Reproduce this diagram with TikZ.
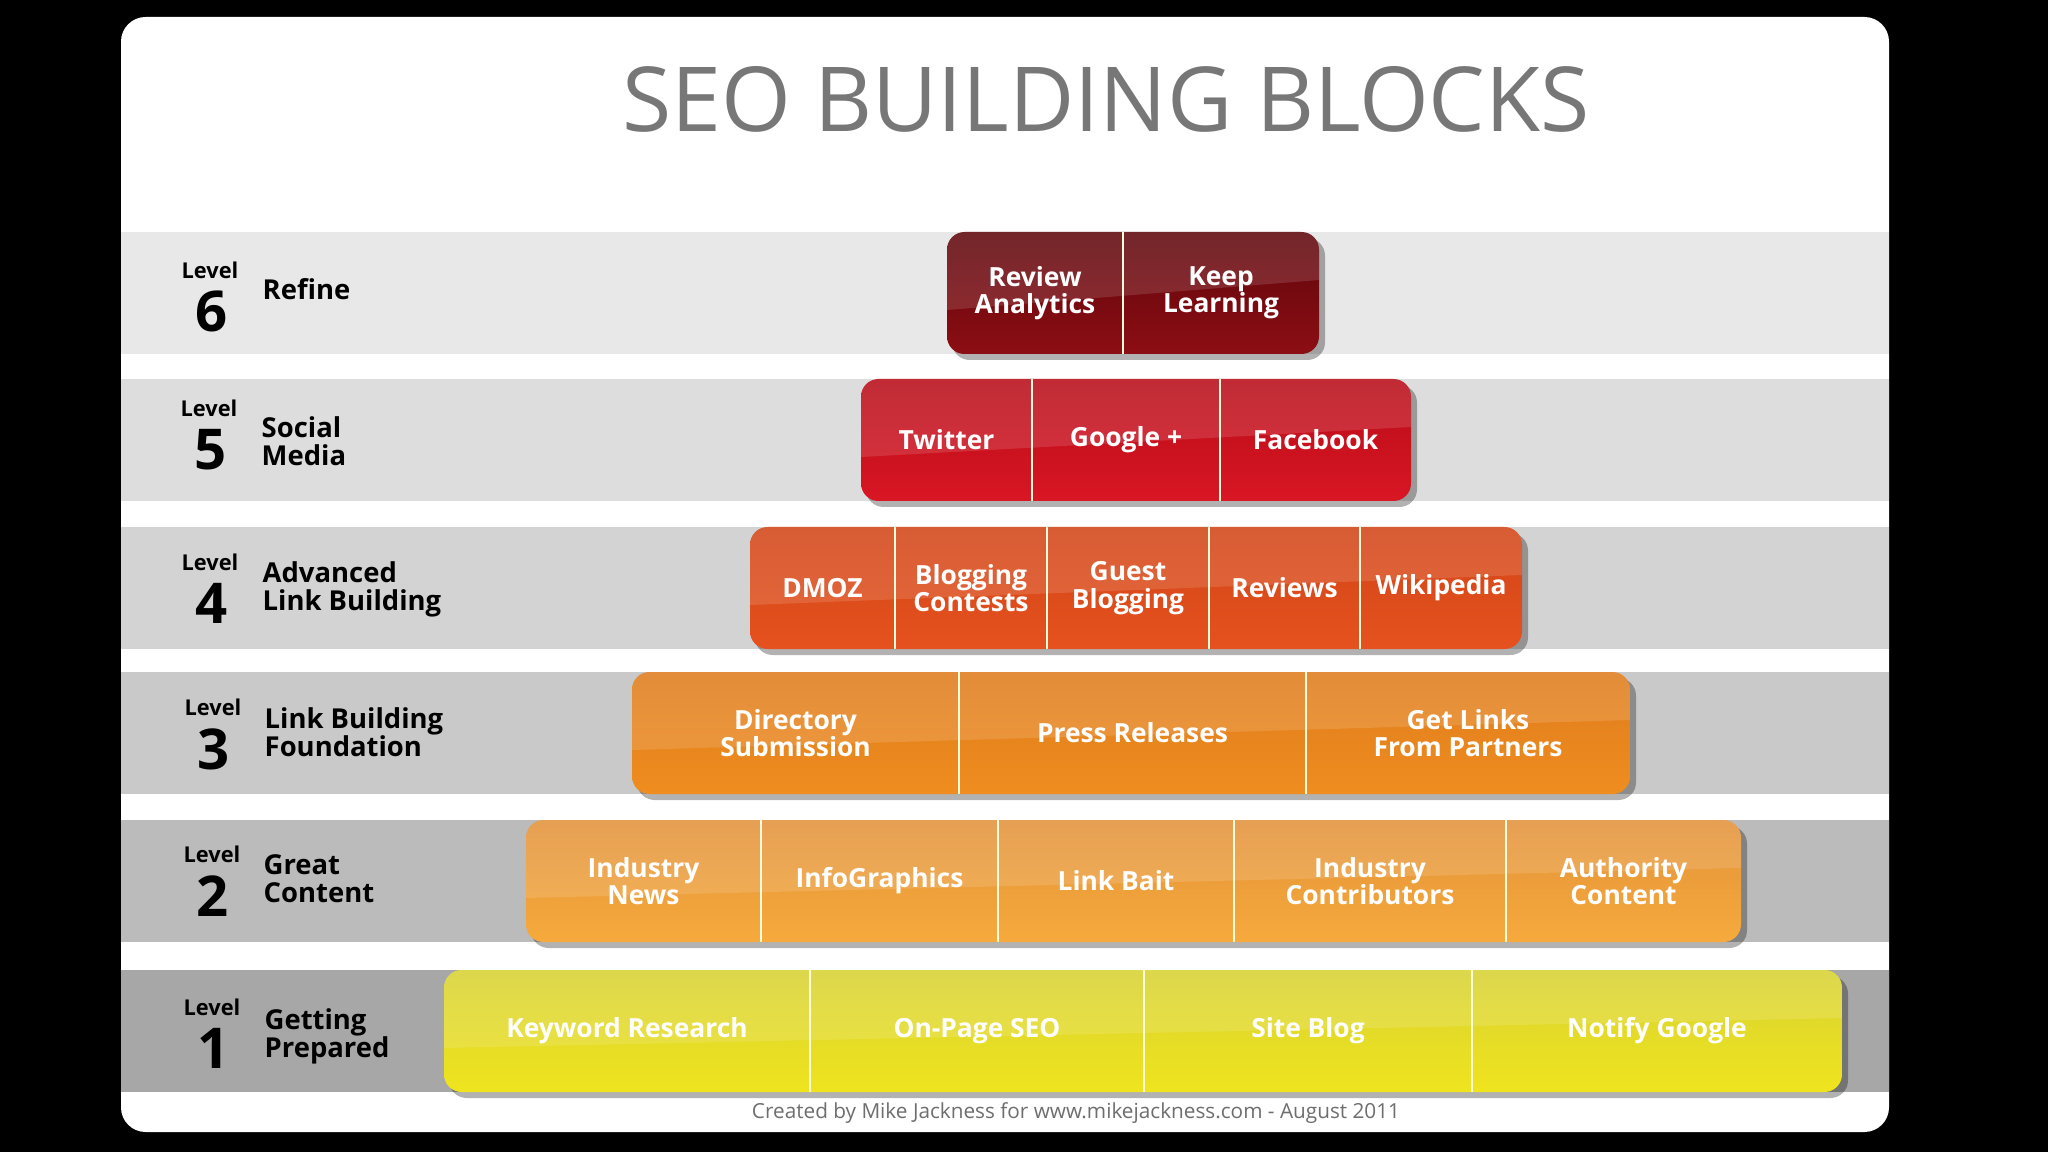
\documentclass[tikz,border=0pt]{standalone}
\usepackage{fontspec}
\setmainfont{Open Sans}
\usetikzlibrary{positioning}

\definecolor{bandsix}{HTML}{E8E8E8}
\definecolor{bandfive}{HTML}{DDDDDD}
\definecolor{bandfour}{HTML}{D3D3D3}
\definecolor{bandthree}{HTML}{C9C9C9}
\definecolor{bandtwo}{HTML}{BBBBBB}
\definecolor{bandone}{HTML}{A7A7A7}
\definecolor{titlegray}{HTML}{777777}
\definecolor{creditgray}{HTML}{6E6E6E}
\definecolor{sixtop}{HTML}{5E060B}
\definecolor{sixbot}{HTML}{8C0E14}
\definecolor{fivetop}{HTML}{B80C18}
\definecolor{fivebot}{HTML}{D91624}
\definecolor{fourtop}{HTML}{D24416}
\definecolor{fourbot}{HTML}{E5521F}
\definecolor{threetop}{HTML}{DF7C1C}
\definecolor{threebot}{HTML}{EF8D20}
\definecolor{twotop}{HTML}{E3923A}
\definecolor{twobot}{HTML}{F6AA3C}
\definecolor{onetop}{HTML}{D8D232}
\definecolor{onebot}{HTML}{EFE41E}

\tikzset{
  seg/.style={text=white, font=\bfseries\fontsize{7.5}{7.8}\selectfont, align=center,
    inner sep=0pt, outer sep=0pt, minimum height=1.22cm},
  divider/.style={draw=white!85!yellow, line width=0.7pt},
  lvlword/.style={font=\bfseries\fontsize{6.2}{6.2}\selectfont, inner sep=0pt},
  lvlnum/.style={font=\bfseries\fontsize{16}{16}\selectfont, inner sep=0pt},
  lvlname/.style={font=\bfseries\fontsize{7.8}{8}\selectfont, align=left, anchor=west, inner sep=0pt},
}

% glossy block: left x, right x, top y, top colour, bottom colour
\newcommand{\seoblock}[5]{%
  \fill[black, opacity=0.3, rounded corners=5pt] ({#1+5},{#3+6}) rectangle ({#2+6},{#3+128});
  \shade[rounded corners=5pt, top color=#4, bottom color=#5] (#1,#3) rectangle (#2,{#3+122});
  \begin{scope}
    \clip[rounded corners=5pt] (#1,#3) rectangle (#2,{#3+122});
    \fill[white, opacity=0.13] (#1,#3) -- (#2,#3) -- (#2,{#3+48}) -- (#1,{#3+78}) -- cycle;
  \end{scope}}

\begin{document}
\begin{tikzpicture}[x=0.01cm, y=-0.01cm]
  \fill[black] (0,0) rectangle (2048,1152);
  \fill[white, rounded corners=7pt] (121,17) rectangle (1889,1132);

  % bands
  \fill[bandsix] (121,232) rectangle (1889,354);
  \fill[bandfive] (121,379) rectangle (1889,501);
  \fill[bandfour] (121,527) rectangle (1889,649);
  \fill[bandthree] (121,672) rectangle (1889,794);
  \fill[bandtwo] (121,820) rectangle (1889,942);
  \fill[bandone] (121,970) rectangle (1889,1092);

  \node[font=\fontsize{25.5}{25.5}\selectfont, text=titlegray] (title) at (1106,99) {SEO BUILDING BLOCKS};

  % level labels
  \node[lvlword] (lv6) at (210,270) {Level};
  \node[lvlnum] (n6) at (212,311) {6};
  \node[lvlname] (t6) at (262,289) {Refine};

  \node[lvlword] (lv5) at (209,408) {Level};
  \node[lvlnum] (n5) at (211,450) {5};
  \node[lvlname] (t5) at (261,441) {Social\\Media};

  \node[lvlword] (lv4) at (210,562) {Level};
  \node[lvlnum] (n4) at (212,603) {4};
  \node[lvlname] (t4) at (262,589) {Advanced\\Link Building};

  \node[lvlword] (lv3) at (213,707) {Level};
  \node[lvlnum] (n3) at (214,749) {3};
  \node[lvlname] (t3) at (264,732) {Link Building\\Foundation};

  \node[lvlword] (lv2) at (212,854) {Level};
  \node[lvlnum] (n2) at (213,896) {2};
  \node[lvlname] (t2) at (263,879) {Great\\Content};

  \node[lvlword] (lv1) at (212,1007) {Level};
  \node[lvlnum] (n1) at (214,1048) {1};
  \node[lvlname] (t1) at (264,1036) {Getting\\Prepared};

  % level 6
  \seoblock{947}{1319}{232}{sixtop}{sixbot}
  \node[seg, minimum width=1.76cm] (r6a) at (1035,293) {Review\\Analytics};
  \node[seg, minimum width=1.96cm] (r6b) at (1221,293) {Keep\\Learning};
  \draw[divider] (r6a.north east) -- (r6a.south east);

  % level 5
  \seoblock{861}{1411}{379}{fivetop}{fivebot}
  \node[seg, minimum width=1.71cm] (r5a) at (946.5,440) {Twitter};
  \node[seg, minimum width=1.88cm] (r5b) at (1126,440) {Google +};
  \node[seg, minimum width=1.91cm] (r5c) at (1315.5,440) {Facebook};
  \draw[divider] (r5a.north east) -- (r5a.south east);
  \draw[divider] (r5b.north east) -- (r5b.south east);

  % level 4
  \seoblock{750}{1522}{527}{fourtop}{fourbot}
  \node[seg, minimum width=1.45cm] (r4a) at (822.5,588) {DMOZ};
  \node[seg, minimum width=1.52cm] (r4b) at (971,588) {Blogging\\Contests};
  \node[seg, minimum width=1.62cm] (r4c) at (1128,588) {Guest\\Blogging};
  \node[seg, minimum width=1.51cm] (r4d) at (1284.5,588) {Reviews};
  \node[seg, minimum width=1.62cm] (r4e) at (1441,588) {Wikipedia};
  \draw[divider] (r4a.north east) -- (r4a.south east);
  \draw[divider] (r4b.north east) -- (r4b.south east);
  \draw[divider] (r4c.north east) -- (r4c.south east);
  \draw[divider] (r4d.north east) -- (r4d.south east);

  % level 3
  \seoblock{632}{1630}{672}{threetop}{threebot}
  \node[seg, minimum width=3.27cm] (r3a) at (795.5,733) {Directory\\Submission};
  \node[seg, minimum width=3.47cm] (r3b) at (1132.5,733) {Press Releases};
  \node[seg, minimum width=3.24cm] (r3c) at (1468,733) {Get Links\\From Partners};
  \draw[divider] (r3a.north east) -- (r3a.south east);
  \draw[divider] (r3b.north east) -- (r3b.south east);

  % level 2
  \seoblock{526}{1741}{820}{twotop}{twobot}
  \node[seg, minimum width=2.35cm] (r2a) at (643.5,881) {Industry\\News};
  \node[seg, minimum width=2.37cm] (r2b) at (879.5,881) {InfoGraphics};
  \node[seg, minimum width=2.36cm] (r2c) at (1116,881) {Link Bait};
  \node[seg, minimum width=2.72cm] (r2d) at (1370,881) {Industry\\Contributors};
  \node[seg, minimum width=2.35cm] (r2e) at (1623.5,881) {Authority\\Content};
  \draw[divider] (r2a.north east) -- (r2a.south east);
  \draw[divider] (r2b.north east) -- (r2b.south east);
  \draw[divider] (r2c.north east) -- (r2c.south east);
  \draw[divider] (r2d.north east) -- (r2d.south east);

  % level 1
  \seoblock{444}{1842}{970}{onetop}{onebot}
  \node[seg, minimum width=3.66cm] (r1a) at (627,1031) {Keyword Research};
  \node[seg, minimum width=3.34cm] (r1b) at (977,1031) {On-Page SEO};
  \node[seg, minimum width=3.28cm] (r1c) at (1308,1031) {Site Blog};
  \node[seg, minimum width=3.70cm] (r1d) at (1657,1031) {Notify Google};
  \draw[divider] (r1a.north east) -- (r1a.south east);
  \draw[divider] (r1b.north east) -- (r1b.south east);
  \draw[divider] (r1c.north east) -- (r1c.south east);

  \node[font=\fontsize{5.9}{5.9}\selectfont, text=creditgray] (credit) at (1076,1113) {Created by Mike Jackness for www.mikejackness.com - August 2011};
\end{tikzpicture}
\end{document}
